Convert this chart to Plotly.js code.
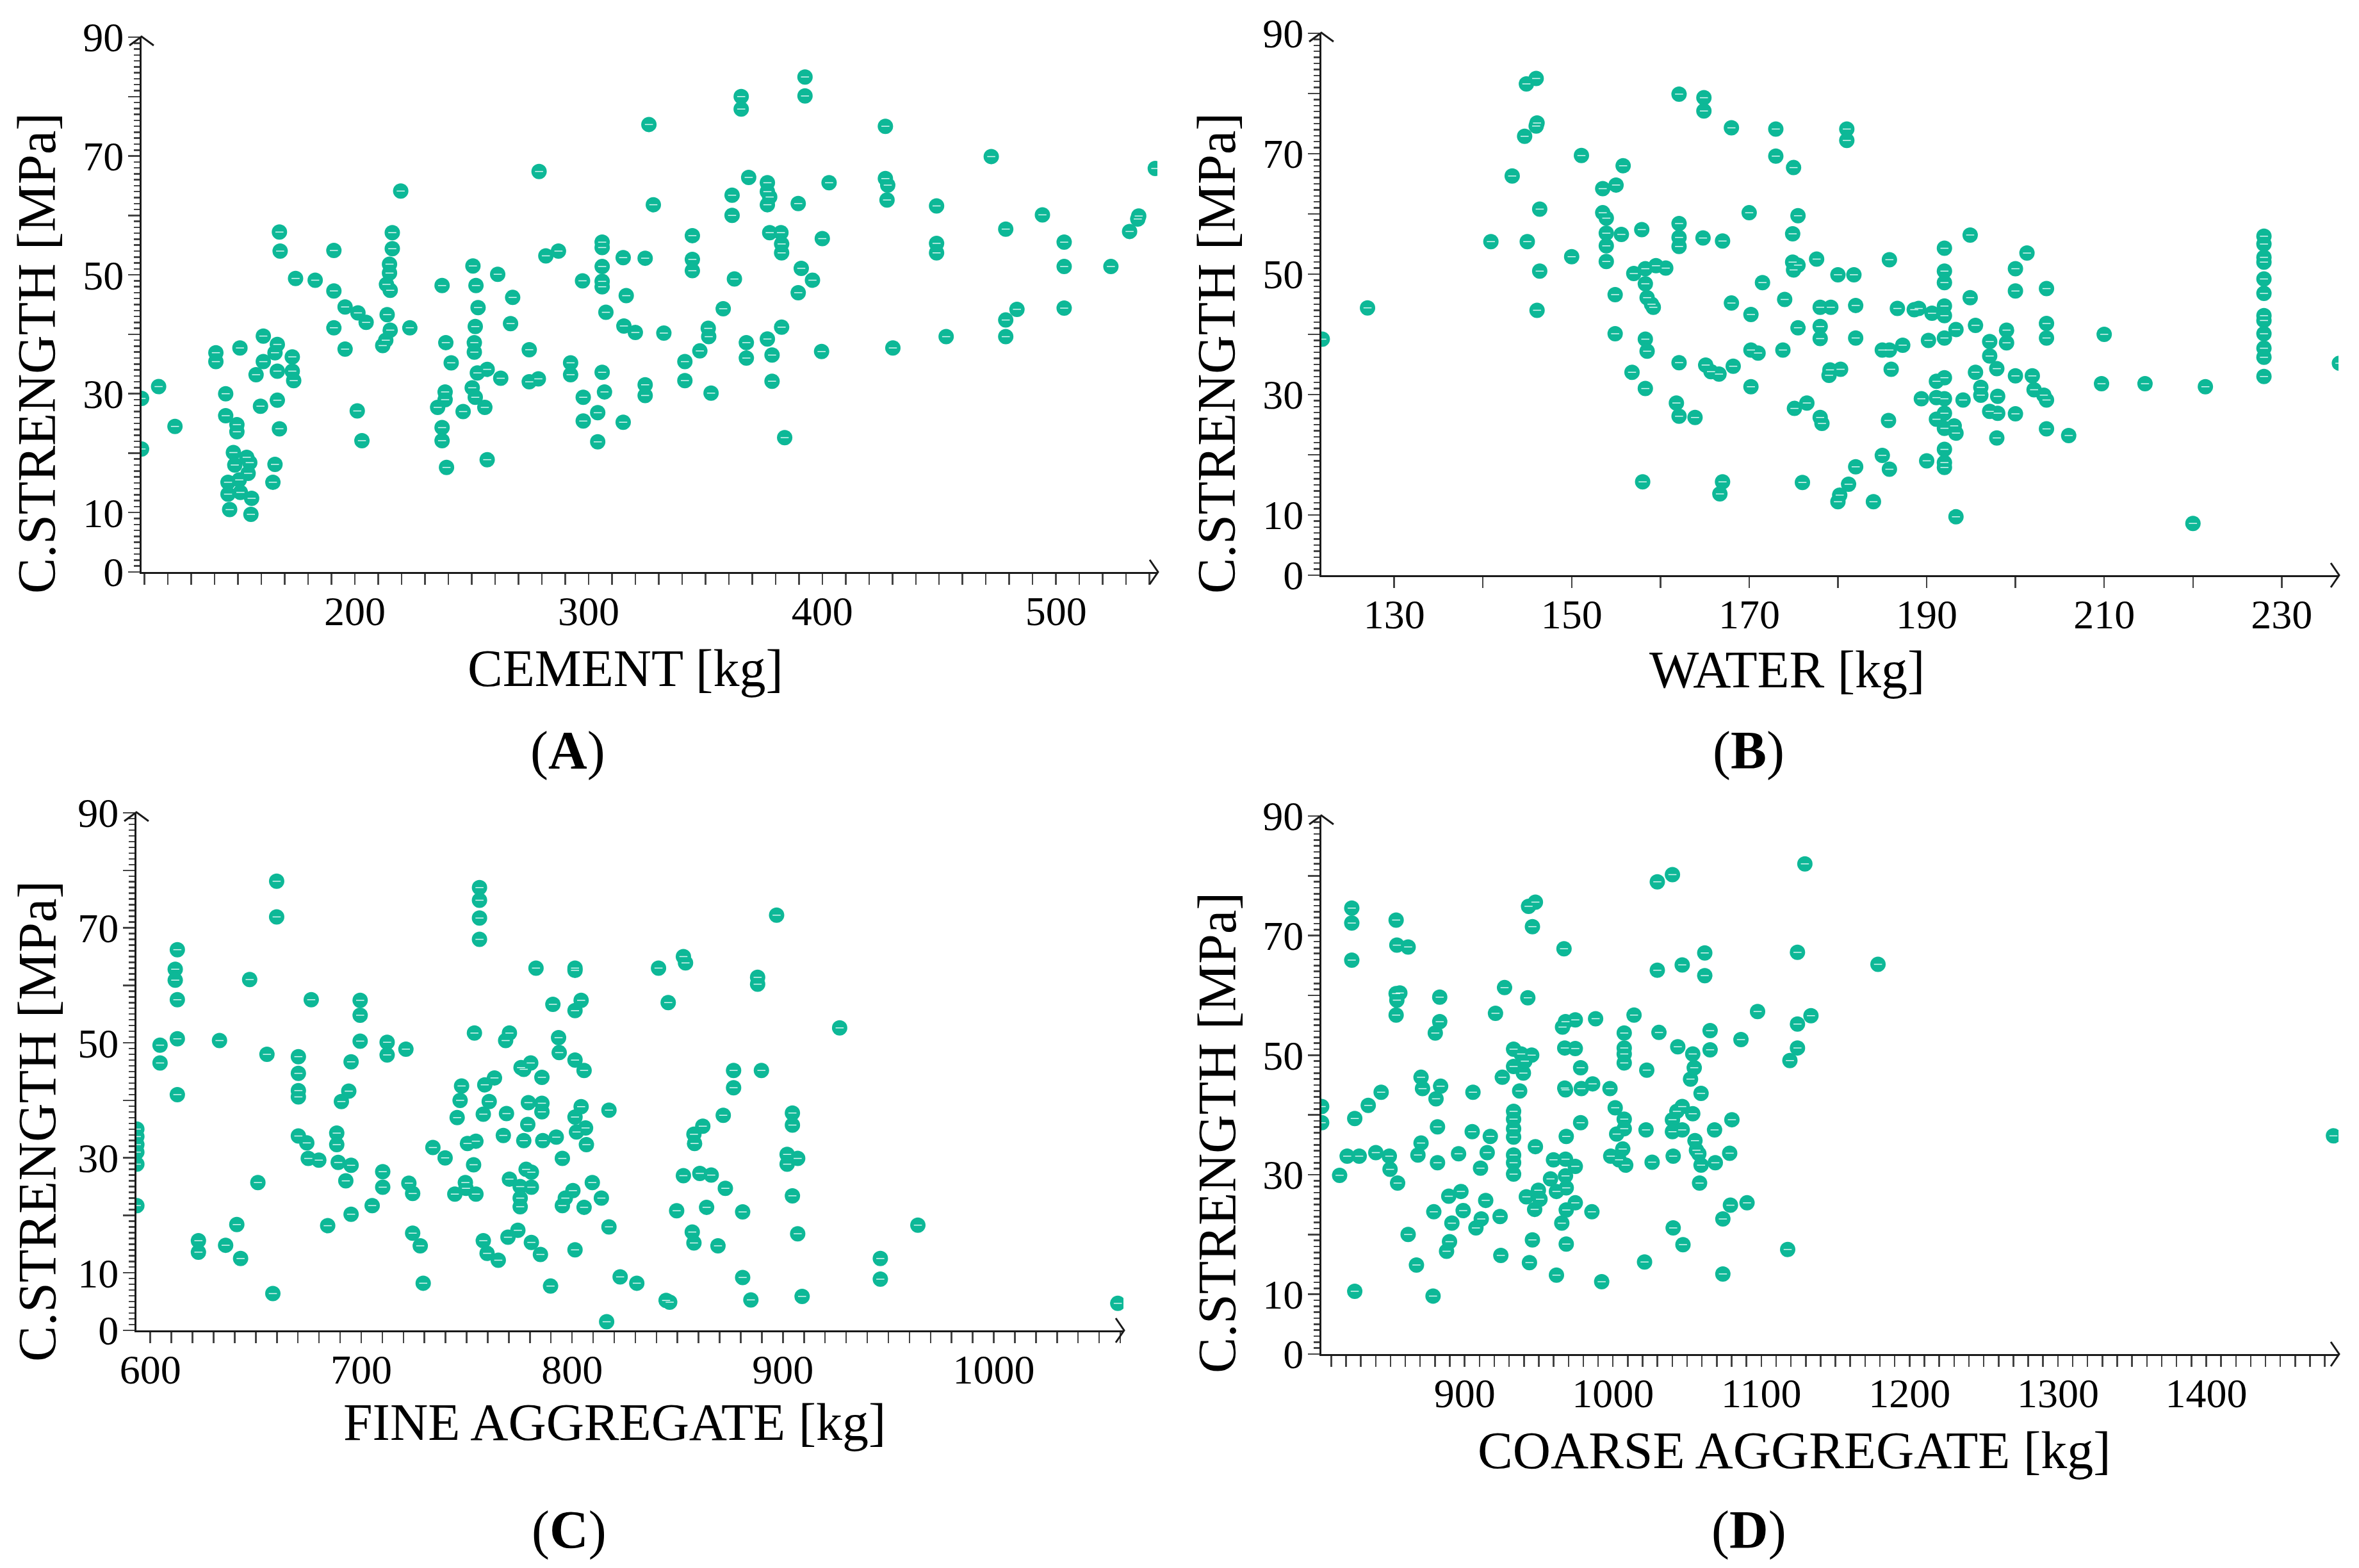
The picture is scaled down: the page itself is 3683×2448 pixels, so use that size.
<!DOCTYPE html>
<html><head><meta charset="utf-8">
<script src="https://cdn.plot.ly/plotly-3.0.1.min.js"></script>
<style>html,body{margin:0;padding:0;background:#fff}#chart{width:3683px;height:2448px}</style>
</head><body><div id="chart"></div>
<script>
// ---- data (x = ingredient amount, y = compressive strength MPa)
const cementX=[108.7,108.7,116,123,140.5,140.5,144.7,144.7,150.8,149.5,
149.5,148,148.6,153.7,155,154.3,145.7,150.5,145.7,151,
155.8,146.4,155.5,157.7,159.6,160.8,160.8,165.8,166.8,166.8,
166.8,167.7,165.8,164.9,167.7,168,173.2,173.2,173.8,174.6,
183,191,191,191,195.8,195.8,201.3,204.8,201,203,
211.9,213.2,213.5,213.8,214.8,214.8,215.1,215.1,216,216,
219.6,223.5,235.4,237.3,237.3,237.3,238.6,238.6,238.9,241.2,
239.2,246.3,250.5,250.2,251.5,251.1,251.1,251.8,251.5,252.7,
252.4,256.6,255.6,256.6,261.1,262.4,266.6,267.5,274.6,274.6,
278.5,278.8,281.7,287.1,292.3,292.3,297.4,297.7,297.7,303.9,
303.9,305.8,305.8,305.8,305.8,305.8,305.8,306.8,307.4,314.8,
316.1,315.1,314.8,320,324.2,324.2,324.2,325.8,327.7,332.2,
341.2,341.2,344.4,344.4,344.4,347.6,351.2,351.4,352.4,357.6,
361.4,361.4,362.4,365.3,365.3,368.5,367.5,367.5,376.5,376.5,
376.5,377.5,377.5,376.5,378.5,378.5,382.3,382.6,382.6,382.6,
383.9,389.7,389.7,391,392.6,392.6,395.8,400,399.7,402.9,
427,427,428,427.7,430.2,448.9,448.9,448.9,453,472.3,
478.5,478.5,478.5,483.3,494.2,503.5,503.5,503.5,523.5,531.5,
535,535.4,542.5];
const cementY=[29.2,20.7,31.2,24.5,36.9,35.4,30,26.3,37.7,24.8,
23.6,20.1,18,19.3,18.4,16.6,15.1,15.5,13.1,13.4,
12.4,10.5,9.7,33.2,27.9,35.4,39.7,36.9,38.3,33.8,
28.9,24.1,18.1,15.1,57.2,54,36.2,33.8,32.2,49.4,
49.1,47.3,54.1,41.1,44.6,37.5,43.6,42,27.1,22.1,
38.1,39,48.4,43.3,51.8,50.3,47.4,40.7,57.1,54.4,
64.1,41.1,27.7,48.2,24.3,22.1,30.3,29,38.6,35.2,
17.6,27,51.5,31,29.4,38.6,37,48.2,41.3,44.5,
33.5,34.1,27.7,18.9,50.1,32.6,41.8,46.2,37.4,32,
32.5,67.4,53.2,54,35.2,33.2,49,29.4,25.4,26.8,
21.9,55.5,54.6,51.4,48.9,48,33.6,30.3,43.7,52.9,
46.5,41.4,25.2,40.3,52.8,31.5,29.7,75.3,61.8,40.2,
35.4,32.2,56.6,52.6,50.7,37.2,41,39.6,30.1,44.3,
63.4,60,49.3,80,77.9,66.4,38.6,36,65.5,64,
61.8,63.1,57.1,39.2,36.5,32.1,57.1,55.2,53.7,41.2,
22.6,62,47,51.1,83.3,80.1,49.1,56.1,37.1,65.5,
75,66.2,65.1,62.6,37.7,61.6,55.3,53.7,39.6,69.9,
57.7,42.4,39.6,44.2,60.1,55.5,51.4,44.4,51.4,57.3,
59.4,59.9,67.9];

const waterX=[121.9,127,140.9,143.3,144.7,144.9,146,146,146.1,145,
146.4,146.4,146.1,150,151.1,153.5,153.5,153.9,153.9,153.9,
153.9,155,155.8,155.6,154.9,154.9,157,157.9,158.3,158.3,
158.5,159,159.2,159.5,160.6,158.3,158.5,156.8,158.3,158,
162.1,162.1,162.1,162.1,162.1,161.8,162.1,163.9,164.9,164.9,
164.8,165.1,165.7,166.6,167,167,166.7,168,168,168.2,
170,170.2,170.2,171,170.2,171.5,173,173,174,173.8,
175,174.9,174.9,175,175.5,175.5,175.5,175.1,176.5,176,
177.6,178,178,178,178,178.2,179.2,179.1,179,180.3,
180,181.8,181,181,182,182,182,181.2,180.2,180,
184,185,185.8,185.8,185.8,186,185.7,185,186.7,187.3,
188.6,189.1,189.4,190,190.2,190.6,191.1,191.1,191.1,192,
192,192,192,192,192,192,192,192,192,192,
192,192,193.1,193.3,193.3,193.3,194.1,194.9,194.9,195.5,
195.5,196.1,196.1,197.1,197.1,197.1,197.9,198,198,197.9,
199,199,200,200,200,200,201.3,201.9,202.1,203.2,
203.5,203.5,203.5,203.5,203.5,206,210,209.7,214.6,220,
221.4,228,228,228,228,228,228,228,228,228,
228,228,228,236.5];
const waterY=[39.2,44.4,55.4,66.3,72.9,81.6,82.5,74.6,75.1,55.4,
60.8,50.5,44,52.9,69.7,64.2,60.2,59.3,56.8,54.7,
52.1,64.8,68,56.6,46.6,40.1,50.1,57.4,50.9,48.4,
46.1,45,44.5,51.4,51,39.2,37.2,33.7,31,15.5,
58.4,56.1,54.6,79.9,35.3,28.6,26.4,26.2,79.3,77.1,
56,34.9,33.8,33.4,55.5,15.5,13.5,74.3,45.2,34.7,
60.2,43.3,37.4,36.9,31.3,48.6,74.1,69.6,45.8,37.4,
67.7,56.7,52,50.7,51.5,59.7,41.1,27.7,28.6,15.4,
52.5,44.5,41.3,39.3,26.2,25.2,44.5,34.1,33.2,34.2,
49.9,49.9,74.1,72.2,44.8,39.4,18,15.1,13.3,12.2,
12.2,19.9,17.6,52.4,37.4,34.2,25.7,37.4,44.3,38.2,
44.1,44.3,29.3,19,39,43.5,32.2,29.5,25.9,54.3,
50.5,48.6,44.7,43.1,39.4,32.8,29.3,26.9,24.4,20.9,
18.7,17.9,24.8,23.6,9.7,40.8,29.1,56.5,46.1,41.5,
33.7,31.2,29.9,38.8,36.4,27.2,34.3,29.7,26.9,22.8,
40.7,38.6,50.9,47.2,33.1,26.8,53.5,33.1,30.8,29.9,
47.6,41.8,39.4,29.1,24.3,23.2,40,31.8,31.8,8.6,
31.3,56.3,55,52.8,52,49.2,46.8,43.1,42.3,40.1,
37.7,36.2,33,35.2];

const fineX=[593.6,593.6,593.6,593.6,593.6,593.6,604.6,604.6,611.8,611.8,
612.8,612.8,612.8,612.8,622.8,622.8,632.8,635.7,641,642.8,
647.1,651,655.3,658.1,659.9,659.9,670.2,670.2,670.2,670.2,
670.2,674.2,676.3,674.9,679.9,684.1,688.4,688.4,689.1,690.6,
692.7,694.1,695.2,695.2,695.2,699.5,699.5,699.5,705.2,710.2,
710.2,712.3,712.3,721.2,722.6,724.4,724.4,728,729.4,734,
739.8,744.4,749.4,749.7,745.5,746.9,747.6,750.4,754.4,753.3,
754.4,753.7,756.1,756.1,756.1,756.1,757.9,759.7,757.9,758.6,
760.7,763.2,765,767.4,768.5,770.3,768.9,769.6,770.3,774.3,
775.8,777.1,777.1,775.4,775.4,775.4,778.2,779,779.3,780.4,
780.7,780.7,780.7,785,785.7,785.7,785.7,786.1,782.9,790.9,
789.8,792.5,793.6,793.9,795.4,795.4,796.8,800.4,801.4,801.4,
801.4,801.4,801.4,802.1,801.4,804.3,804.3,805.7,805.7,806.4,
806.8,809.6,813.9,816.4,817.5,817.5,822.8,830.7,841,845.6,
844.6,846.3,849.6,852.8,852.8,853.8,857,857.8,857.8,858.1,
860.6,862,863.8,866,869.2,871.7,872.7,876.6,876.6,880.9,
880.9,884.8,888,888,889.8,897,902,902,904.5,904.5,
904.5,907,907,909.1,926.9,946.2,946.2,964,1058.8];
const fineY=[35,33.7,32.3,31,28.9,21.7,49.6,46.5,62.8,60.9,
66.2,57.5,50.7,41,15.6,13.6,50.4,14.8,18.4,12.5,
61,25.7,48,6.4,78.1,71.9,47.6,44.7,41.7,40.6,
33.8,32.6,57.5,29.9,29.6,18.2,34.3,32.3,29.2,39.8,
26,41.6,46.7,28.7,20.2,57.4,54.8,50.3,21.7,27.6,
24.9,50.1,47.9,48.9,25.6,23.8,16.9,14.7,8.2,31.8,
30,23.7,25.7,24.7,37,40,42.5,32.5,32.9,28.8,
23.7,51.7,77,74.8,71.7,68,15.6,13.4,37.6,42.7,
39.8,43.9,12.2,33.9,50.4,51.7,37.7,16.2,26.3,17.4,
45.7,45.4,33,25,23,21.5,28,35.8,39.6,46.5,
27.5,24.9,15.3,13.2,39.5,38,44,33,63,56.7,
7.7,33.6,50.9,48.3,29.9,21.7,23,24.3,63,62.6,
55.6,47,37.1,34.5,14,57.4,38.9,45.2,21.4,35.2,
32.3,25.7,23,1.5,38.3,18,9.3,8.2,63,57,
5.2,4.9,20.8,26.9,65,63.9,17.1,15.2,34.1,32.5,
27.3,35.5,21.4,27,14.7,37.4,24.7,45.2,42.2,20.6,
9.2,5.3,61.4,60.2,45.2,72.2,30.6,28.9,37.8,35.7,
23.4,29.9,16.8,5.9,52.6,12.5,8.9,18.3,4.7];

const coarseX=[803.6,803.6,815.7,820.8,823.9,823.9,823.9,825.9,825.9,828.9,
835,840.1,843.7,849.2,849.7,853.8,854.3,861.9,853.8,854.3,
856.3,853.8,854.8,861.9,867.5,868.5,870.6,870.6,871.6,879.2,
878.7,880.2,880.7,881.7,881.7,883.2,883.2,883.8,887.8,889.8,
889.3,891.4,895.9,897.5,899,905.1,905.6,907.6,910.7,911.2,
914.2,915.2,917.3,920.8,923.9,924.4,925.4,926.9,933,933,
933,933,933,933,933,933,933,937.1,938.1,939.6,
940.6,941.6,942.6,943.1,945.7,947.7,945.2,945.7,943.7,947.2,
947.7,949.7,950.8,957.9,959.9,961.9,961.9,965.5,967,966,
968,967.5,967.5,968,968,968.5,968,968.5,968.5,968.5,
974.6,974.6,974.6,974.6,978.2,978.2,978.7,986.3,985.8,988.3,
992.4,998,998.5,1001.5,1002.5,1004.1,1006.6,1007.6,1007.6,1007.6,
1007.6,1007.6,1007.6,1008.6,1014.2,1021.3,1022.3,1022.8,1026.4,1029.9,
1029.9,1031,1040.1,1040.1,1040.1,1040.6,1040.6,1043.1,1043.7,1046.7,
1046.7,1046.7,1047.2,1052.3,1053.8,1053.8,1054.8,1055.3,1056.3,1057.9,
1058.4,1059.4,1059.4,1061.9,1061.9,1065.5,1065.5,1068.5,1069,1074.1,
1074.1,1078.7,1080.2,1079.2,1086.3,1090.4,1097.5,1117.8,1119.3,1124.4,
1124.4,1124.4,1129.4,1133.5,1178.7,1485.8];
const coarseY=[41.4,38.7,29.9,33.1,74.6,72.1,65.9,39.4,10.5,33.1,
41.6,33.7,43.8,33.1,30.9,72.6,68.4,68.1,60.3,59.2,
60.4,56.7,28.6,20,14.9,33.3,35.3,46.3,44.4,23.8,
9.7,53.7,42.7,38,32,59.7,55.6,44.8,17.2,18.8,
26.4,21.9,33.5,27.2,24,37.2,43.8,21.1,31.1,22.6,
25.7,33.7,36.4,57,23,16.5,46.3,61.3,51,48.1,
40.6,39.3,37.7,36.3,33.3,32,30.1,44,50.2,47,
49,26.3,59.6,74.9,71.5,75.6,50,19.1,15.3,24.2,
34.7,27.4,25.9,29.3,32.5,27.2,13.2,21.9,67.8,54.7,
55.6,51.2,44.5,44.2,32.6,36.4,29.8,27.8,24.1,18.4,
55.9,51.1,31.4,25.3,47.9,38.7,44.4,45.2,23.8,56.1,
12.1,44.4,33.1,41.2,36.8,32.5,34.3,53.7,51.2,50.2,
48.7,39.3,37.7,31.6,56.7,15.4,37.5,47.5,32.1,79,
64.2,53.8,80.2,39.2,37.2,33.1,21.1,40.6,51.4,65.1,
41.4,37.5,18.3,46,50.2,40.2,47.9,35.7,34.1,33.5,
28.6,31.6,43.6,67.1,63.3,54.1,50.9,37.5,32,22.6,
13.4,33.6,39.2,24.9,52.6,25.3,57.3,17.5,49.1,67.2,
55.2,51.2,82,56.6,65.2,36.5];

const xTitles=['CEMENT [kg]','WATER [kg]','FINE AGGREGATE [kg]','COARSE AGGREGATE [kg]'];
const yTitle='C.STRENGTH [MPa]';
const panelLetters=['A','B','C','D'];

// ---- layout geometry (pixels in the 3683x2448 page)
const W=3683,H=2448;
const FONT='Liberation Serif';
const INK='#1a1a1a', TICK='#444444', MARK='#0db897';
const panels=[
 {x:cementX,y:cementY,xr:[108.7,543.4],px:[221,1807],py:[893,58],tick0:0,dtick:100,
  ytl:[58,552],xtl:[976,1043],lab:[886,1172]},
 {x:waterX,y:waterY,xr:[121.8,236.4],px:[2063,3651],py:[898,52],tick0:130,dtick:20,
  ytl:[1900,552],xtl:[2790,1045],lab:[2730,1172]},
 {x:fineX,y:fineY,xr:[593.4,1061.5],px:[213,1754],py:[2077,1269],tick0:0,dtick:100,
  ytl:[58,1751],xtl:[959,2220],lab:[888,2389]},
 {x:coarseX,y:coarseY,xr:[803.4,1489.2],px:[2063,3651],py:[2114,1274],tick0:0,dtick:100,
  ytl:[1900,1769],xtl:[2801,2264],lab:[2730,2389]}
];

const data=[], shapes=[], annotations=[];
const layout={width:W,height:H,margin:{l:0,r:0,t:0,b:0},paper_bgcolor:'#fff',plot_bgcolor:'#fff',
  showlegend:false,font:{family:FONT,color:'#000'}};

panels.forEach((p,i)=>{
  if(p.x.length!==p.y.length) throw new Error('length mismatch panel '+i+': '+p.x.length+' vs '+p.y.length);
  const n=i+1, xa='xaxis'+(n>1?n:''), ya='yaxis'+(n>1?n:'');
  const xr='x'+(n>1?n:''), yr='y'+(n>1?n:'');
  data.push({type:'scatter',mode:'markers',x:p.x,y:p.y,xaxis:xr,yaxis:yr,
    marker:{size:24,color:MARK,line:{width:0}},hoverinfo:'x+y'});
  data.push({type:'scatter',mode:'markers',x:p.x,y:p.y,xaxis:xr,yaxis:yr,
    marker:{symbol:'line-ew',size:9,color:'#fff',line:{color:'rgba(255,255,255,0.85)',width:1.5}},hoverinfo:'skip'});
  layout[xa]={domain:[p.px[0]/W,p.px[1]/W],range:p.xr,anchor:yr,
    showline:true,linecolor:INK,linewidth:3,showgrid:false,zeroline:false,
    ticks:'outside',ticklen:17,tickwidth:2.5,tickcolor:TICK,
    tickmode:'linear',tick0:p.tick0,dtick:p.dtick,ticklabelstandoff:-14,
    minor:{ticks:'outside',tickmode:'linear',tick0:0,dtick:10,ticklen:17,tickwidth:2.5,tickcolor:TICK},
    tickfont:{family:FONT,size:64,color:'#000'}};
  layout[ya]={domain:[1-p.py[0]/H,1-p.py[1]/H],range:[0,90],anchor:xr,
    showline:true,linecolor:INK,linewidth:3,showgrid:false,zeroline:false,
    ticks:'outside',ticklen:18,tickwidth:2.5,tickcolor:TICK,
    tickmode:'linear',tick0:0,dtick:10,labelalias:{'20':'','40':'','60':'','80':''},
    ticklabelstandoff:-6,
    minor:{ticks:'outside',tickmode:'linear',tick0:0,dtick:1,ticklen:9,tickwidth:2.5,tickcolor:TICK},
    tickfont:{family:FONT,size:64,color:'#000'}};
  // axis-end arrow heads
  shapes.push({type:'path',xref:'paper',yref:'paper',xsizemode:'pixel',ysizemode:'pixel',
    xanchor:p.px[1]/W,yanchor:1-p.py[0]/H,path:'M-12,19 L1,0 L-12,-19',line:{color:INK,width:3}});
  shapes.push({type:'path',xref:'paper',yref:'paper',xsizemode:'pixel',ysizemode:'pixel',
    xanchor:p.px[0]/W,yanchor:1-p.py[1]/H,path:'M-19,-13 L0,1 L19,-13',line:{color:INK,width:3}});
  annotations.push({xref:'paper',yref:'paper',x:p.ytl[0]/W,y:1-p.ytl[1]/H,xanchor:'center',yanchor:'middle',
    text:yTitle,textangle:-90,showarrow:false,font:{family:FONT,size:84,color:'#000'}});
  annotations.push({xref:'paper',yref:'paper',x:p.xtl[0]/W,y:1-p.xtl[1]/H,xanchor:'center',yanchor:'middle',
    text:xTitles[i],showarrow:false,font:{family:FONT,size:82,color:'#000'}});
  annotations.push({xref:'paper',yref:'paper',x:p.lab[0]/W,y:1-p.lab[1]/H,xanchor:'center',yanchor:'middle',
    text:'(<b>'+panelLetters[i]+'</b>)',showarrow:false,font:{family:FONT,size:84,color:'#000'}});
});
layout.shapes=shapes; layout.annotations=annotations;
Plotly.newPlot('chart',data,layout,{displayModeBar:false,staticPlot:true});
</script></body></html>
